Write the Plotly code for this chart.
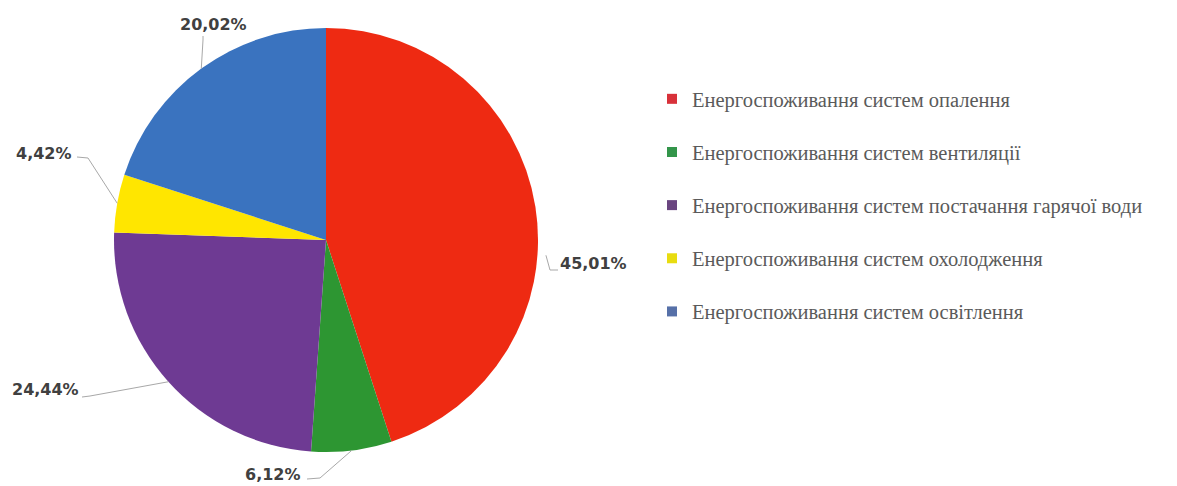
import plotly.graph_objects as go
import math

# ---- data ----
categories = [
    "Енергоспоживання систем опалення",
    "Енергоспоживання систем вентиляції",
    "Енергоспоживання систем постачання гарячої води",
    "Енергоспоживання систем охолодження",
    "Енергоспоживання систем освітлення",
]
values = [45.01, 6.12, 24.44, 4.42, 20.02]

# ---- style ----
W, H = 1177, 486
slice_colors = ["#EE2A12", "#2D9632", "#6E3A93", "#FFE600", "#3A73BF"]
legend_colors = ["#D8313A", "#33954A", "#6A4580", "#E8DC10", "#5670A8"]
cx, cy, R = 326, 240, 212           # pie centre / radius in pixels (layout)
# label centre positions (pixels) and leader start / elbow points (pixels)
label_pos = [(594, 263), (273, 474), (45, 389), (44, 153), (213, 24)]
leader_start = [(558, 270), (307, 479), (82, 397), (77, 157), (203, 36)]
leader_elbow = [(550, 270), (320, 478), (90, 396), (88, 158), (203, 40)]
leader_frac = [0.58, 0.5, 0.5, 0.5, 0.5]
leader_rscale = [1.04, 1.0, 1.0, 1.0, 1.0]


def px_to_paper(x, y):
    return x / W, 1 - y / H


fig = go.Figure()
fig.add_trace(go.Pie(
    labels=categories,
    values=values,
    sort=False,
    direction="clockwise",
    rotation=0,
    marker=dict(colors=slice_colors, line=dict(width=0)),
    textinfo="none",
    hoverinfo="label+percent",
    showlegend=False,
    domain=dict(x=[(cx - R) / W, (cx + R) / W], y=[1 - (cy + R) / H, 1 - (cy - R) / H]),
))

# legend entries (dummy traces so spacing can be controlled)
for i, (name, col) in enumerate(zip(categories, legend_colors)):
    fig.add_trace(go.Scatter(
        x=[None], y=[None], mode="markers", name=name,
        marker=dict(symbol="square", size=10, color=col),
        legendgroup=f"g{i}", showlegend=True,
    ))

# percentage labels with leader lines, anchored to slice angles
total = sum(values)
cum = 0.0
shapes = []
annotations = []
for i, v in enumerate(values):
    ang = 2 * math.pi * (cum + v * leader_frac[i]) / total
    cum += v
    r = R * leader_rscale[i]
    axp = cx + r * math.sin(ang)
    ayp = cy - r * math.cos(ang)
    p0 = px_to_paper(*leader_start[i])
    p1 = px_to_paper(*leader_elbow[i])
    p2 = px_to_paper(axp, ayp)
    shapes.append(dict(
        type="path", xref="paper", yref="paper",
        path=f"M {p0[0]} {p0[1]} L {p1[0]} {p1[1]} L {p2[0]} {p2[1]}",
        line=dict(color="#A8A8A8", width=1),
    ))
    lx, ly = px_to_paper(*label_pos[i])
    annotations.append(dict(
        x=lx, y=ly, xref="paper", yref="paper", showarrow=False,
        text=f"{v:.2f}".replace(".", ",") + "%",
        font=dict(family="DejaVu Sans", size=16, color="#404040", weight="bold"),
        xanchor="center", yanchor="middle",
    ))

fig.update_layout(
    width=W, height=H,
    margin=dict(l=0, r=0, t=0, b=0),
    paper_bgcolor="white", plot_bgcolor="white",
    xaxis=dict(visible=False), yaxis=dict(visible=False),
    shapes=shapes,
    annotations=annotations,
    legend=dict(
        x=652 / W, y=1 - 79 / H, xanchor="left", yanchor="top",
        font=dict(family="Liberation Serif", size=20.5, color="#5A5A5A"),
        tracegroupgap=23.5, itemwidth=30,
        bgcolor="rgba(0,0,0,0)",
    ),
)

fig.write_html("out.html")
